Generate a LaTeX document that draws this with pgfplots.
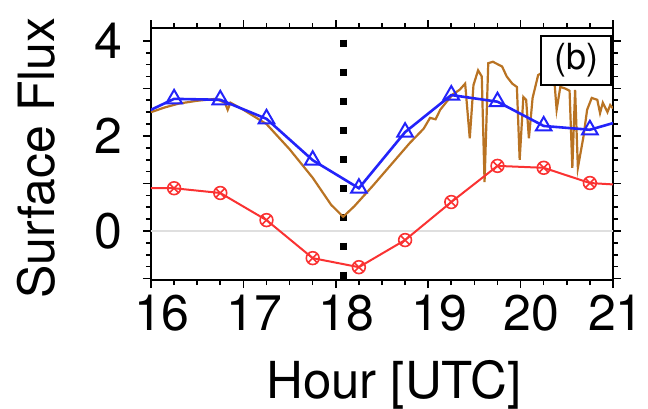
\documentclass[border=0pt]{standalone}
\usepackage{fontspec}
\setmainfont{TeX Gyre Heros}
\usepackage{pgfplots}
\pgfplotsset{compat=1.18}
\definecolor{cblue}{RGB}{35,35,250}
\definecolor{cred}{RGB}{250,50,50}
\definecolor{cbrown}{RGB}{185,115,35}
\begin{document}
\begin{tikzpicture}
\begin{axis}[
  at={(0,0)}, anchor=south west,
  scale only axis, width=231pt, height=126pt,
  xmin=16, xmax=21, ymin=-1.03, ymax=4.27,
  xtick={16,17,18,19,20,21}, xticklabels={16,17,18,19,20,\kern-8pt 21}, minor x tick num=3,
  ytick={-1,0,1,2,3,4}, yticklabels={,0,,2,,4}, minor y tick num=3,
  tick align=outside, major tick length=4pt, minor tick length=2.5pt,
  every tick/.style={black, line width=0.8pt},
  axis line style={line width=1pt},
  /pgf/number format/assume math mode=true,
  xticklabel style={font=\fontsize{25}{25}\selectfont, inner sep=0pt, xshift=5.5pt, yshift=-3.5pt},
  yticklabel style={font=\fontsize{25}{25}\selectfont, inner sep=0pt, xshift=-10pt},
  xlabel={Hour [UTC]}, ylabel={Surface Flux},
  xlabel style={font=\fontsize{25.5}{25.5}\selectfont, at={(axis description cs:0.5,0)}, anchor=base, yshift=-59pt, xshift=6pt, inner sep=0pt},
  ylabel style={font=\fontsize{25}{25}\selectfont, at={(axis description cs:0,0.5)}, anchor=base, yshift=48pt, xshift=-2pt, inner sep=0pt},
  clip=true,
]
\addplot[gray!25, line width=0.6pt] coordinates {(16,0) (21,0)};
\addplot[black, line width=3.5pt, dash pattern=on 3.5pt off 11pt, dash phase=8.75pt] coordinates {(18.08,4.27) (18.08,-1.03)};
\addplot[cbrown, line width=1.1pt] coordinates {
(16.00,2.50) (16.15,2.60) (16.30,2.68) (16.50,2.74) (16.70,2.78) (16.80,2.70) (16.83,2.55) (16.86,2.70)
(17.00,2.55) (17.25,2.25) (17.50,1.72) (17.75,1.12) (17.95,0.55) (18.08,0.30) (18.20,0.52) (18.40,0.95)
(18.60,1.40) (18.80,1.85) (18.95,2.15) (19.02,2.38) (19.08,2.35) (19.13,2.55) (19.20,2.72) (19.27,2.88)
(19.34,2.97) (19.40,3.10) (19.45,1.95) (19.49,3.07) (19.54,3.38) (19.58,3.25) (19.61,1.03) (19.65,3.53)
(19.70,3.56) (19.80,3.46) (19.85,3.25) (19.91,3.10) (19.96,3.03) (19.99,1.50) (20.03,2.82) (20.06,2.76)
(20.09,1.95) (20.13,2.80) (20.19,3.28) (20.25,3.35) (20.32,3.30) (20.37,3.05) (20.39,2.55) (20.43,3.03)
(20.48,3.00) (20.53,2.95) (20.56,1.33) (20.59,2.97) (20.62,1.33) (20.68,1.98) (20.72,2.55) (20.77,2.80)
(20.83,2.76) (20.86,2.48) (20.89,2.70) (20.94,2.50) (20.97,2.65) (21.00,2.58)};
\addplot[cblue, line width=1.3pt, mark=triangle, mark size=4.5pt, mark options={fill=white, line width=1pt}] coordinates {
(15.75,2.32) (16.25,2.78) (16.75,2.76) (17.25,2.36) (17.75,1.49) (18.25,0.90) (18.75,2.08) (19.25,2.86)
(19.75,2.72) (20.25,2.21) (20.75,2.13) (21.25,2.41)};
\addplot[cred, line width=1pt, mark=otimes, mark size=3.2pt, mark options={line width=0.8pt}] coordinates {
(15.75,0.90) (16.25,0.90) (16.75,0.80) (17.25,0.23) (17.75,-0.57) (18.25,-0.76) (18.75,-0.19) (19.25,0.61)
(19.75,1.37) (20.25,1.33) (20.75,1.01) (21.25,0.95)};
\node[draw, line width=1pt, fill=white, minimum width=35pt, minimum height=24.5pt, anchor=north east, inner sep=0pt, font=\fontsize{18}{18}\selectfont] at (rel axis cs:0.998,0.972) {(b)};
\end{axis}
\pgfresetboundingbox
\path[use as bounding box] (-75.5pt,-64pt) rectangle (248.5pt,140pt);
\end{tikzpicture}
\end{document}
